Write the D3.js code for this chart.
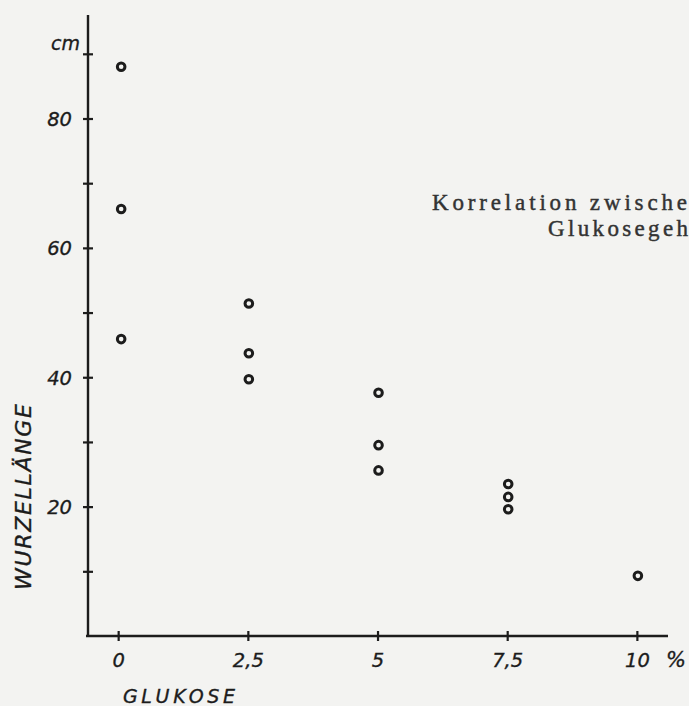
<!DOCTYPE html>
<html>
<head>
<meta charset="utf-8">
<script src="https://cdn.jsdelivr.net/npm/d3@7"></script>
<style>
  html, body { margin: 0; padding: 0; background: #f3f3f1; }
  svg { display: block; }
  .tick text, .letter { font-family: "DejaVu Sans", "Liberation Sans", sans-serif; font-style: italic; fill: #1c1c1c; stroke: #1c1c1c; stroke-width: 0.35px; }
</style>
</head>
<body>
<svg id="chart" width="689" height="706"></svg>
<script>
// Data
const glucose = [0, 0, 0, 2.5, 2.5, 2.5, 5, 5, 5, 7.5, 7.5, 7.5, 10];
const rootLength = [88, 66, 45.9, 51.4, 43.7, 39.7, 37.6, 29.5, 25.6, 23.5, 21.5, 19.6, 9.3];
const xTicks = [0, 2.5, 5, 7.5, 10];
const xTickLabels = ["0", "2,5", "5", "7,5", "10"];
const yTicks = [10, 20, 30, 40, 50, 60, 70, 80, 90];
const yTickLabels = { 20: "20", 40: "40", 60: "60", 80: "80" };
const titleLines = ["Korrelation zwische", "Glukosegeh"];

const ink = "#1c1c1c";
const svg = d3.select("#chart");

const x = d3.scaleLinear().domain([-0.62, 10.6]).range([86, 668]);
const y = d3.scaleLinear().domain([0, 96]).range([636, 15]);

// Y axis
const yAxis = d3.axisLeft(y)
  .tickValues(yTicks)
  .tickSize(5)
  .tickPadding(11)
  .tickFormat(d => yTickLabels[d] || "");
const gy = svg.append("g").attr("transform", `translate(${x(-0.62) + 2},0)`).call(yAxis);
gy.select(".domain").remove();
gy.selectAll(".tick line").attr("x1", -5).attr("x2", 5).attr("stroke", ink).attr("stroke-width", 2.2);
gy.selectAll(".tick text").attr("font-size", 19.5).attr("dy", "0.36em");
gy.append("line").attr("x1", 0).attr("x2", 0).attr("y1", y(96)).attr("y2", y(0))
  .attr("stroke", ink).attr("stroke-width", 2.4);
gy.append("text").attr("class", "letter").attr("x", -8).attr("y", y(90) - 4)
  .attr("text-anchor", "end").attr("font-size", 19)
  .text("cm");

// X axis
const xAxis = d3.axisBottom(x)
  .tickValues(xTicks)
  .tickSize(5)
  .tickPadding(12)
  .tickFormat((d, i) => xTickLabels[i]);
const gx = svg.append("g").attr("transform", `translate(0,${y(0)})`).call(xAxis);
gx.select(".domain").remove();
gx.selectAll(".tick line").attr("y1", -5).attr("y2", 5).attr("stroke", ink).attr("stroke-width", 2.2);
gx.selectAll(".tick text").attr("font-size", 19.5);
gx.append("line").attr("x1", x(-0.62)).attr("x2", x(10.6)).attr("y1", 0).attr("y2", 0)
  .attr("stroke", ink).attr("stroke-width", 2.4);
gx.append("text").attr("class", "letter").attr("x", x(10.6) - 2).attr("y", 31)
  .attr("text-anchor", "start").attr("font-size", 21)
  .text("%");

// Axis titles
svg.append("text").attr("class", "letter")
  .attr("transform", `translate(31,497) rotate(-90)`)
  .attr("text-anchor", "middle").attr("font-size", 22)
  .attr("textLength", 186).attr("lengthAdjust", "spacing")
  .text("WURZELLÄNGE");

svg.append("text").attr("class", "letter")
  .attr("x", 123).attr("y", 703).attr("font-size", 19)
  .attr("textLength", 112).attr("lengthAdjust", "spacing")
  .text("GLUKOSE");

// Points
svg.append("g").selectAll("circle")
  .data(glucose.map((g, i) => ({ g, v: rootLength[i] })))
  .join("circle")
  .attr("cx", d => x(d.g) + (d.g === 0 ? 3 : 1))
  .attr("cy", d => y(d.v))
  .attr("r", 3.8)
  .attr("fill", "none")
  .attr("stroke", ink)
  .attr("stroke-width", 3);

// Caption text (cut off at the right edge, as in the scan)
const cap = svg.append("g")
  .attr("font-family", "Liberation Serif, DejaVu Serif, serif")
  .attr("font-size", 23).attr("fill", "#333")
  .attr("stroke", "#333").attr("stroke-width", 0.45);
cap.append("text").attr("x", 432).attr("y", 210)
  .attr("textLength", 255).attr("lengthAdjust", "spacing").text(titleLines[0]);
cap.append("text").attr("x", 548).attr("y", 236)
  .attr("textLength", 140).attr("lengthAdjust", "spacing").text(titleLines[1]);
</script>
</body>
</html>
